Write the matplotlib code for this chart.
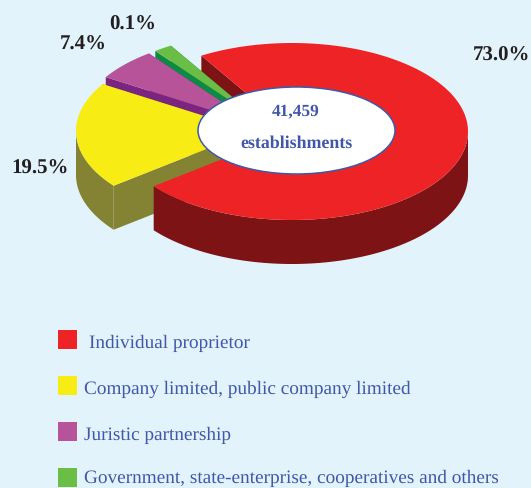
import numpy as np
import matplotlib
matplotlib.use('Agg')
import matplotlib.pyplot as plt
from matplotlib.patches import Ellipse, Rectangle

plt.rcParams['text.hinting'] = 'no_hinting'

#-----------------------------------------------------------------------------------------------------------------------------------
# data

labels = ['Individual proprietor', 'Company limited, public company limited', 'Juristic partnership',
          'Government, state-enterprise, cooperatives and others']
pct_labels = ['73.0%', '19.5%', '7.4%', '0.1%']
# shares as they are drawn in the picture (the small slices are not to scale there)
drawn_shares = [73.0, 19.5, 5.8, 1.7]
total_text = '41,459'
unit_text = 'establishments'

top_colors = ['#ee2326', '#f7ec13', '#b65399', '#6abd45']
side_colors = ['#7d1315', '#848334', '#7b2580', '#0d8b45']
text_blue = '#4058a7'

#-----------------------------------------------------------------------------------------------------------------------------------
# layout in image pixels

centers = [(292, 131.5), (252, 131), (255, 124), (261.5, 121.5)]
rx, ry, depth = 176, 88.5, 44
start_angle = 121.0

fig = plt.figure(figsize=(5.31, 4.88), dpi=100, facecolor='#e3f3fb')
ax = fig.add_axes([0, 0, 1, 1])
ax.set_xlim(0, 531)
ax.set_ylim(488, 0)
ax.axis('off')
serif = 'Liberation Serif'

#-----------------------------------------------------------------------------------------------------------------------------------

def rim(center, t1, t2):
    t = np.radians(np.linspace(t1, t2, 200))
    return center[0] + rx*np.cos(t), center[1] - ry*np.sin(t)

def draw_cut(center, t, color):
    x, y = rim(center, t, t)
    ax.fill([x[0], center[0], center[0], x[0]], [y[0], center[1], center[1]+depth, y[0]+depth],
            color=color, lw=0)

def draw_side(center, t1, t2, color):
    # only the front half of the rim can be seen
    a1, a2 = max(t1, 180.0), min(t2, 360.0)
    if a2 > a1:
        x, y = rim(center, a1, a2)
        ax.fill(np.r_[x, x[::-1]], np.r_[y, y[::-1]+depth], color=color, lw=0)

def draw_top(center, t1, t2, color):
    x, y = rim(center, t1, t2)
    ax.fill(np.r_[center[0], x], np.r_[center[1], y], color=color, lw=0)

# clockwise from the start angle: red, yellow, purple, green
sweeps = np.array(drawn_shares)/sum(drawn_shares)*360.0
ends = start_angle - np.cumsum(sweeps)
starts = np.r_[start_angle, ends[:-1]]

# red back cut goes first, the exploded slices lie over it
draw_cut(centers[0], starts[0], side_colors[0])

for i in [3, 2, 1]:
    lo, hi = ends[i] % 360, (ends[i] % 360) + sweeps[i]
    draw_cut(centers[i], hi, side_colors[i])
    draw_cut(centers[i], lo, side_colors[i])
    draw_side(centers[i], lo, hi, side_colors[i])
    draw_top(centers[i], lo, hi, top_colors[i])

lo, hi = ends[0], starts[0]
draw_side(centers[0], lo + 360, 360, side_colors[0])
draw_top(centers[0], lo, hi, top_colors[0])

ax.add_patch(Ellipse((296.5, 130.5), 197, 87, fc='white', ec=text_blue, lw=1.1))
ax.text(296, 111, total_text, color=text_blue, family=serif, weight='bold', fontsize=12.5, ha='center', va='center')
ax.text(296.5, 144, unit_text, color=text_blue, family=serif, weight='bold', fontsize=12.9, ha='center', va='center')

#-----------------------------------------------------------------------------------------------------------------------------------

pct_pos = [(473, 55.5), (11, 169), (60, 44.5), (109, 24.5)]
for s, (x, y) in zip(pct_labels, pct_pos):
    ax.text(x, y, s, color='#231f20', family=serif, weight='bold', fontsize=15, ha='left', va='center')

leg_y = [330, 376, 422, 468]
leg_x = [89, 84, 84, 84]
leg_text_y = [343.5, 389.5, 435.5, 478.5]
for i, lab in enumerate(labels):
    ax.add_patch(Rectangle((58, leg_y[i]), 19, 19, fc=top_colors[i], ec='none'))
    ax.text(leg_x[i], leg_text_y[i], lab, color=text_blue, family=serif, fontsize=13.9, ha='left', va='center')

fig.savefig('out.png', dpi=100, facecolor=fig.get_facecolor())
